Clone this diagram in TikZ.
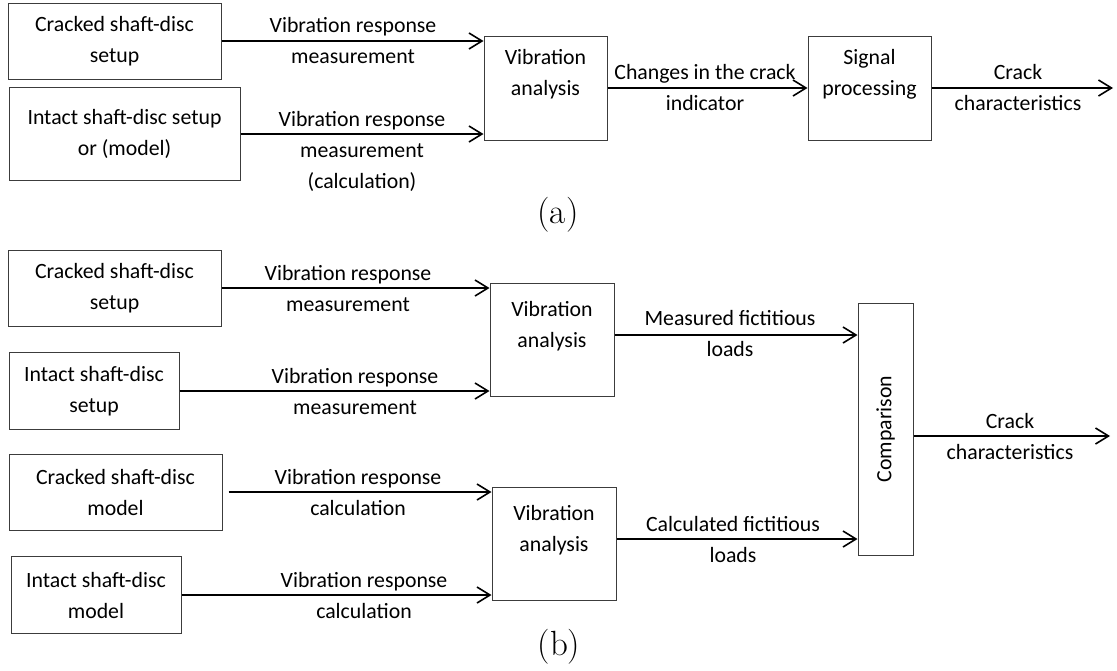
\documentclass[tikz,border=0pt]{standalone}
\usepackage{fontspec}
\newfontfamily\calib{Carlito}
\usetikzlibrary{arrows.meta,calc}
\definecolor{BoxClr}{HTML}{3c3c3c}

\begin{document}
\begin{tikzpicture}[x=0.5pt,y=-0.5pt,
  blk/.style={draw=BoxClr,line width=0.5pt,align=center,inner sep=0pt,
    font=\calib\fontsize{10.9}{15.5}\selectfont},
  lbl/.style={align=center,inner sep=0pt,font=\calib\fontsize{10.9}{15.5}\selectfont},
  flow/.style={line width=0.8pt,-{Straight Barb[length=6.5pt,width=8pt]}},
  sublbl/.style={font=\fontsize{17.5}{20}\selectfont}]

\useasboundingbox (0,0) rectangle (1117,670);

% (a) crack indicator scheme
\node[blk,minimum width=106.5pt,minimum height=38pt] (crackSet) at (114.5,41) {Cracked shaft-disc\\setup};
\node[blk,minimum width=115.5pt,minimum height=46.5pt] (intactSet) at (124.5,134) {Intact shaft-disc setup\\or (model)};
\node[blk,minimum width=61.5pt,minimum height=52pt] (vibA) at (545.5,88) {Vibration\\analysis\\\mbox{}};
\node[blk,minimum width=61.5pt,minimum height=52pt] (signal) at (869.5,88) {Signal\\processing\\\mbox{}};
\coordinate (outA) at (1113,88);

\draw[flow] (crackSet.east) -- (crackSet.east -| vibA.west);
\draw[flow] (intactSet.east) -- (intactSet.east -| vibA.west);
\draw[flow] (vibA.east) -- (signal.west);
\draw[flow] (signal.east) -- (outA);

\node[lbl] (la1) at (353,41) {Vibration response\\measurement};
\node[lbl] (la2) at (362,151) {Vibration response\\measurement\\(calculation)};
\node[lbl] (la3) at (705,88) {Changes in the crack\\indicator};
\node[lbl] (la4) at (1018,88) {Crack\\characteristics};
\node[sublbl] (capA) at (558,215) {(a)};

% (b) fictitious loads scheme
\node[blk,minimum width=106.5pt,minimum height=38pt] (crackSet2) at (114.5,288) {Cracked shaft-disc\\setup};
\node[blk,minimum width=85pt,minimum height=38.5pt] (intactSet2) at (94,391) {Intact shaft-disc\\setup};
\node[blk,minimum width=106.5pt,minimum height=38pt] (crackMod) at (115.5,492) {Cracked shaft-disc\\model};
\node[blk,minimum width=85pt,minimum height=38.5pt] (intactMod) at (96,595) {Intact shaft-disc\\model};
\node[blk,minimum width=62pt,minimum height=56.5pt] (vibB1) at (552,339.5) {Vibration\\analysis\\\mbox{}};
\node[blk,minimum width=62pt,minimum height=56.5pt] (vibB2) at (554,543.5) {Vibration\\analysis\\\mbox{}};
\node[blk,minimum width=27.5pt,minimum height=126pt] (comp) at (885.5,429) {};
\node[lbl,rotate=90] (compTxt) at (comp.center) {Comparison};

\coordinate (m1) at ($(vibB1.east)+(0,-4.5)$);
\coordinate (m2) at ($(vibB2.east)+(0,-4.5)$);
\coordinate (outB) at (1110,436);

\draw[flow] (crackSet2.east) -- (crackSet2.east -| vibB1.west);
\draw[flow] (intactSet2.east) -- (intactSet2.east -| vibB1.west);
\draw[flow,shorten <=3pt] (crackMod.east) -- (crackMod.east -| vibB2.west);
\draw[flow] (intactMod.east) -- (intactMod.east -| vibB2.west);
\draw[flow] (m1) -- (m1 -| comp.west);
\draw[flow] (m2) -- (m2 -| comp.west);
\draw[flow] (outB -| comp.east) -- (outB);

\node[lbl] (lb1) at (348,289) {Vibration response\\measurement};
\node[lbl] (lb2) at (355,391) {Vibration response\\measurement};
\node[lbl] (lb3) at (358,492) {Vibration response\\calculation};
\node[lbl] (lb4) at (364,595) {Vibration response\\calculation};
\node[lbl] (lb5) at (730,334) {Measured fictitious\\loads};
\node[lbl] (lb6) at (733,539) {Calculated fictitious\\loads};
\node[lbl] (lb7) at (1010,436) {Crack\\characteristics};
\node[sublbl] (capB) at (559,647) {(b)};

\end{tikzpicture}
\end{document}
